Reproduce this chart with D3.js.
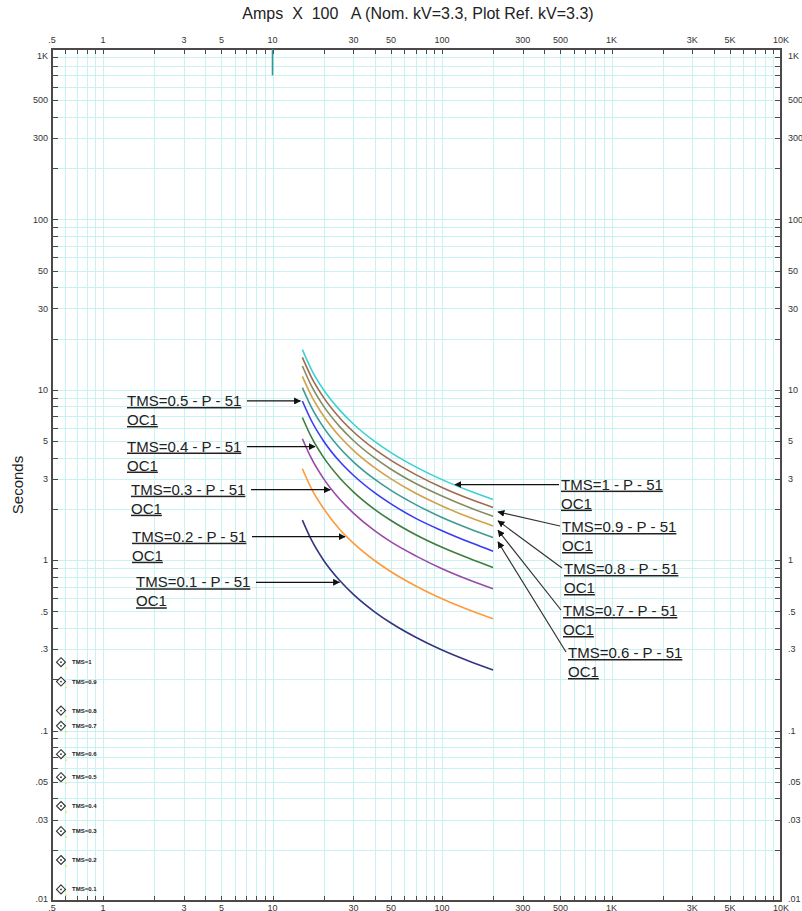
<!DOCTYPE html>
<html>
<head>
<meta charset="utf-8">
<script src="https://cdn.jsdelivr.net/npm/d3@7"></script>
<style>
  html, body { margin: 0; padding: 0; background: #fff; }
  svg { display: block; font-family: "Liberation Sans", Arial, sans-serif; }
</style>
</head>
<body>
<svg id="chart" width="802" height="911"></svg>
<script>
// ---------------- DATA ----------------
const titleText = "Amps  X  100   A (Nom. kV=3.3, Plot Ref. kV=3.3)";
const yAxisTitle = "Seconds";

const xTickLabels = [0.5, 1, 3, 5, 10, 30, 50, 100, 300, 500, 1000, 3000, 5000, 10000];
const yTickLabels = [0.01, 0.03, 0.05, 0.1, 0.3, 0.5, 1, 3, 5, 10, 30, 50, 100, 300, 500, 1000];

// current (Amps x 100) at which each curve was read
const currents = [15, 17, 20, 25, 30, 40, 50, 70, 100, 150, 200];

// operating time (s) read for each TMS curve
const tms10 = [17.2, 13.1, 10.0, 7.57, 6.30, 4.98, 4.28, 3.53, 2.97, 2.52, 2.27];
const tms09 = [15.5, 11.8, 9.03, 6.81, 5.67, 4.48, 3.85, 3.18, 2.67, 2.26, 2.04];
const tms08 = [13.8, 10.5, 8.02, 6.06, 5.04, 3.98, 3.42, 2.82, 2.38, 2.01, 1.81];
const tms07 = [12.0, 9.18, 7.02, 5.30, 4.41, 3.49, 3.00, 2.47, 2.08, 1.76, 1.59];
const tms06 = [10.3, 7.87, 6.02, 4.54, 3.78, 2.99, 2.57, 2.12, 1.78, 1.51, 1.36];
const tms05 = [8.60, 6.56, 5.01, 3.78, 3.15, 2.49, 2.14, 1.76, 1.49, 1.26, 1.13];
const tms04 = [6.88, 5.25, 4.01, 3.03, 2.52, 1.99, 1.71, 1.41, 1.19, 1.01, 0.907];
const tms03 = [5.16, 3.94, 3.01, 2.27, 1.89, 1.49, 1.28, 1.06, 0.891, 0.755, 0.680];
const tms02 = [3.44, 2.62, 2.01, 1.51, 1.26, 0.996, 0.856, 0.706, 0.594, 0.503, 0.453];
const tms01 = [1.72, 1.31, 1.00, 0.757, 0.630, 0.498, 0.428, 0.353, 0.297, 0.252, 0.227];

const tmsNames = ["1", "0.9", "0.8", "0.7", "0.6", "0.5", "0.4", "0.3", "0.2", "0.1"];
const tmsSeries = [tms10, tms09, tms08, tms07, tms06, tms05, tms04, tms03, tms02, tms01];

// pickup marker line at 10 (x100 A)
const pickupCurrent = [10, 10];
const pickupTimes = [1000, 700];

// legend symbol positions (A x100, s) as placed on the plot
const legendCurrent = 0.565;
const legendTimes = [0.252, 0.194, 0.131, 0.1066, 0.0727, 0.0533, 0.0361, 0.0257, 0.0174, 0.0117];

// label targets: current on curve where each callout arrow points
const leftLabelTms = ["0.5", "0.4", "0.3", "0.2", "0.1"];
const leftLabelCurrent = [15, 18.3, 22.5, 27.5, 25.5];
const rightLabelTms = ["1", "0.9", "0.8", "0.7", "0.6"];
const rightLabelCurrent = [118, 200, 200, 200, 200];

// ---------------- STYLE / LAYOUT ----------------
const colors = ["#3fd0d2", "#a06a50", "#8a8a62", "#d4a04a", "#3f9a96", "#3a3cf2", "#3f7d3f", "#9a48a8", "#ff9a3a", "#33357f"];
const M = { left: 52, right: 781, top: 49, bottom: 901 };
const gridColor = "#c9f3f3";
const axisColor = "#4a4a4a";

// left labels: text x offsets (from layout)
const leftTextX = [127, 127, 131, 132, 136];
// right labels: text left x, first line centre y
const rightTextPos = [[561, null], [562, 527], [564, 569], [563, 611], [568, 653]];

// ---------------- DRAW ----------------
const svg = d3.select("#chart");
const x = d3.scaleLog().domain([0.5, 10000]).range([M.left, M.right]);
const y = d3.scaleLog().domain([0.01, 1000]).range([M.bottom, M.top]);

svg.append("rect").attr("width", 802).attr("height", 911).attr("fill", "#fff");

function minorValues(lo, hi) {
  const out = [];
  for (let e = -3; e <= 5; e++) {
    for (let m = 1; m <= 9; m++) {
      const v = +(m * Math.pow(10, e)).toPrecision(6);
      if (v >= lo - 1e-9 && v <= hi + 1e-9) out.push(v);
    }
  }
  return out;
}
const xMinor = minorValues(0.5, 10000);
const yMinor = minorValues(0.01, 1000);

const grid = svg.append("g").attr("stroke", gridColor).attr("stroke-width", 1).attr("shape-rendering", "crispEdges");
grid.selectAll(".vx").data(xMinor).join("line")
  .attr("x1", d => Math.round(x(d)) + 0.5).attr("x2", d => Math.round(x(d)) + 0.5)
  .attr("y1", M.top).attr("y2", M.bottom);
grid.selectAll(".hy").data(yMinor).join("line")
  .attr("y1", d => Math.round(y(d)) + 0.5).attr("y2", d => Math.round(y(d)) + 0.5)
  .attr("x1", M.left).attr("x2", M.right);

// ticks (inward) on all sides
const tk = svg.append("g").attr("stroke", axisColor).attr("stroke-width", 1).attr("shape-rendering", "crispEdges");
tk.selectAll(".tt").data(xMinor).join("line")
  .attr("x1", d => Math.round(x(d)) + 0.5).attr("x2", d => Math.round(x(d)) + 0.5)
  .attr("y1", M.top).attr("y2", M.top + 5);
tk.selectAll(".tb").data(xMinor).join("line")
  .attr("x1", d => Math.round(x(d)) + 0.5).attr("x2", d => Math.round(x(d)) + 0.5)
  .attr("y1", M.bottom).attr("y2", M.bottom - 5);
tk.selectAll(".tl").data(yMinor).join("line")
  .attr("y1", d => Math.round(y(d)) + 0.5).attr("y2", d => Math.round(y(d)) + 0.5)
  .attr("x1", M.left).attr("x2", M.left + 6);
tk.selectAll(".tr").data(yMinor).join("line")
  .attr("y1", d => Math.round(y(d)) + 0.5).attr("y2", d => Math.round(y(d)) + 0.5)
  .attr("x1", M.right).attr("x2", M.right - 6);

// frame
svg.append("rect")
  .attr("x", M.left).attr("y", M.top)
  .attr("width", M.right - M.left).attr("height", M.bottom - M.top)
  .attr("fill", "none").attr("stroke", axisColor).attr("stroke-width", 2);

function fmt(v) {
  if (v >= 1000) return (v / 1000) + "K";
  if (v < 1) return String(v).replace(/^0/, "");
  return String(v);
}

const lab = svg.append("g").attr("font-size", 9).attr("fill", "#333");
lab.selectAll(".lt").data(xTickLabels).join("text")
  .attr("x", d => x(d)).attr("y", 43).attr("text-anchor", "middle").text(fmt);
lab.selectAll(".lb").data(xTickLabels).join("text")
  .attr("x", d => x(d)).attr("y", 911).attr("text-anchor", "middle").text(fmt);
function yLabelY(d) {
  if (d === 1000) return y(d) + 9.5;
  if (d === 0.01) return y(d) + 0.5;
  return y(d) + 3.2;
}
lab.selectAll(".ll").data(yTickLabels).join("text")
  .attr("x", 48).attr("y", yLabelY).attr("text-anchor", "end").text(fmt);
lab.selectAll(".lr").data(yTickLabels).join("text")
  .attr("x", 788).attr("y", yLabelY).attr("text-anchor", "start").text(fmt);

// titles
svg.append("text").attr("x", 418).attr("y", 19).attr("text-anchor", "middle")
  .attr("font-size", 16).attr("fill", "#222").style("white-space", "pre").text(titleText);
svg.append("text").attr("transform", "translate(23,485) rotate(-90)").attr("text-anchor", "middle")
  .attr("font-size", 15).attr("fill", "#222").text(yAxisTitle);

// pickup marker
svg.append("line")
  .attr("x1", x(pickupCurrent[0])).attr("x2", x(pickupCurrent[1]))
  .attr("y1", y(pickupTimes[0])).attr("y2", y(pickupTimes[1]))
  .attr("stroke", "#2f9a9a").attr("stroke-width", 1.6);

// curves
const line = d3.line().x(d => x(d[0])).y(d => y(d[1])).curve(d3.curveMonotoneX);
const curvesG = svg.append("g").attr("fill", "none").attr("stroke-width", 1.6);
tmsSeries.forEach((s, i) => {
  curvesG.append("path")
    .datum(currents.map((c, j) => [c, s[j]]))
    .attr("stroke", colors[i]).attr("d", line);
});

// value on a curve at a current (log-log read between the read points)
function timeAt(series, c) {
  for (let j = 0; j < currents.length - 1; j++) {
    if (c >= currents[j] && c <= currents[j + 1]) {
      const f = (Math.log(c) - Math.log(currents[j])) / (Math.log(currents[j + 1]) - Math.log(currents[j]));
      return Math.exp(Math.log(series[j]) + f * (Math.log(series[j + 1]) - Math.log(series[j])));
    }
  }
  return series[series.length - 1];
}

// arrow marker
const defs = svg.append("defs");
defs.append("marker").attr("id", "ah").attr("viewBox", "0 0 10 10")
  .attr("refX", 9).attr("refY", 5).attr("markerWidth", 7).attr("markerHeight", 7)
  .attr("markerUnits", "userSpaceOnUse").attr("orient", "auto")
  .append("path").attr("d", "M0,0 L10,5 L0,10 Z").attr("fill", "#111");

function labelBlock(g, tx, cy, name) {
  const t = g.append("text").attr("font-size", 15).attr("fill", "#222")
    .style("text-decoration", "underline");
  t.append("tspan").attr("x", tx).attr("y", cy + 5).text("TMS=" + name + " - P - 51");
  t.append("tspan").attr("x", tx).attr("y", cy + 24).text("OC1");
}

const ann = svg.append("g");
leftLabelTms.forEach((name, i) => {
  const idx = tmsNames.indexOf(name);
  const c = leftLabelCurrent[i];
  const tipX = x(c) - 2;
  const tipY = y(timeAt(tmsSeries[idx], c));
  labelBlock(ann, leftTextX[i], tipY, name);
  ann.append("line").attr("x1", leftTextX[i] + 120).attr("y1", tipY)
    .attr("x2", tipX).attr("y2", tipY)
    .attr("stroke", "#111").attr("stroke-width", 1.3).attr("marker-end", "url(#ah)");
});

rightLabelTms.forEach((name, i) => {
  const idx = tmsNames.indexOf(name);
  const c = rightLabelCurrent[i];
  const px = x(c), py = y(timeAt(tmsSeries[idx], c));
  const [tx, tyFixed] = rightTextPos[i];
  if (tyFixed === null) {
    // horizontal callout
    labelBlock(ann, tx, py, name);
    ann.append("line").attr("x1", tx - 2).attr("y1", py).attr("x2", px + 1).attr("y2", py)
      .attr("stroke", "#111").attr("stroke-width", 1.3).attr("marker-end", "url(#ah)");
  } else {
    labelBlock(ann, tx, tyFixed, name);
    ann.append("line").attr("x1", tx - 2).attr("y1", tyFixed - 1)
      .attr("x2", px + 5).attr("y2", py + 4.5)
      .attr("stroke", "#333").attr("stroke-width", 1.2).attr("marker-end", "url(#ah)");
  }
});

// legend symbols
const lg = svg.append("g");
legendTimes.forEach((t, i) => {
  const cx = x(legendCurrent), cy = y(t);
  const g = lg.append("g").attr("transform", `translate(${cx},${cy})`);
  g.append("path").attr("d", "M0,-4.5 L4.5,0 L0,4.5 L-4.5,0 Z")
    .attr("fill", "#fff").attr("stroke", "#333").attr("stroke-width", 1.1);
  g.append("circle").attr("r", 0.9).attr("fill", "#333");
  g.append("circle").attr("cx", 5).attr("cy", 6).attr("r", 0.9).attr("fill", "#e6e640");
  g.append("text").attr("x", 11).attr("y", 2).attr("font-size", 6).attr("font-weight", "bold")
    .attr("fill", "#222").text("TMS=" + tmsNames[i]);
});
</script>
</body>
</html>
